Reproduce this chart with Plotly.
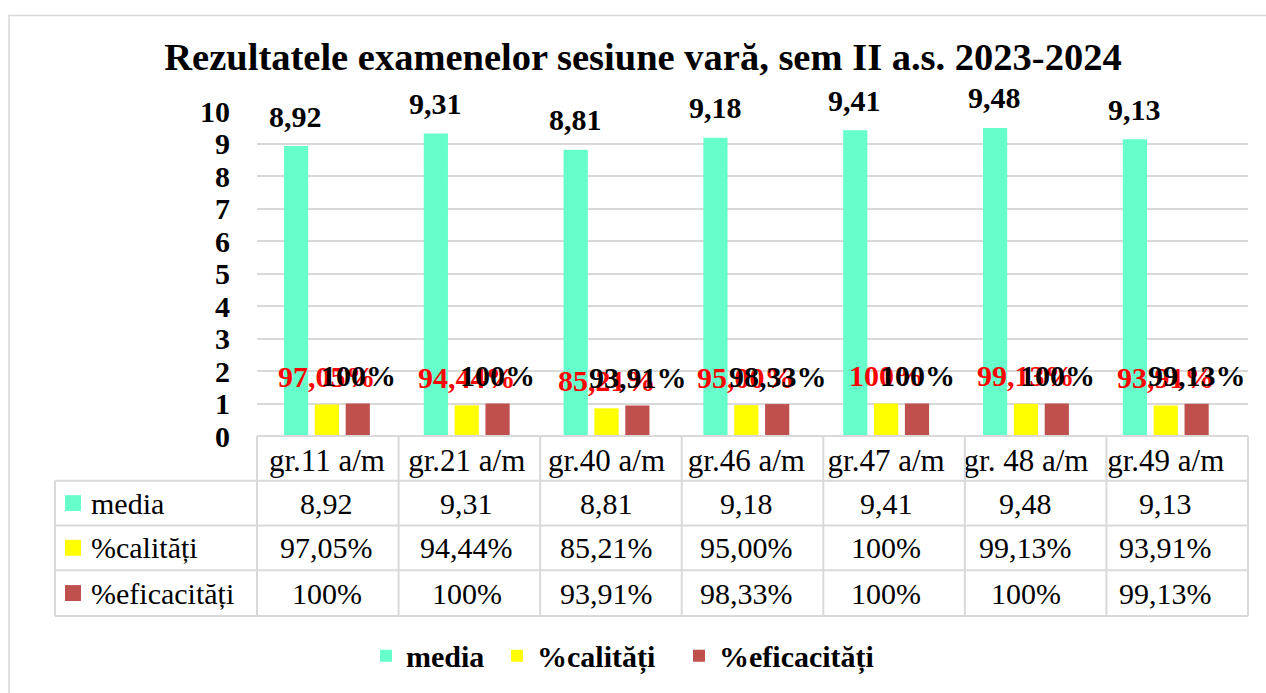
import plotly.graph_objects as go

# ---------------- data ----------------
categories = ["gr.11 a/m", "gr.21 a/m", "gr.40 a/m", "gr.46 a/m", "gr.47 a/m", "gr. 48 a/m", "gr.49 a/m"]
media = [8.92, 9.31, 8.81, 9.18, 9.41, 9.48, 9.13]
calitatii = [0.9705, 0.9444, 0.8521, 0.9500, 1.0, 0.9913, 0.9391]
eficacitatii = [1.0, 1.0, 0.9391, 0.9833, 1.0, 1.0, 0.9913]
series_names = ["media", "%calități", "%eficacități"]
y_ticks = list(range(0, 11))
title_text = "Rezultatele examenelor sesiune vară, sem II a.s. 2023-2024"

# ---------------- style ----------------
series_colors = ["#66FFCC", "#FFFF00", "#C0504D"]
label_colors = ["#000000", "#FF0000", "#000000"]
legend_widths = [86, 137, 165]
FONT = "Liberation Serif"
GRID = "#D9D9D9"
W, H = 1266, 693
L, R, T, B = 257, 1248, 111, 438  # plot area in px


def fmt_num(v):
    return f"{v:.2f}".replace(".", ",")


def fmt_pct(v):
    p = round(v * 100, 2)
    if p == 100:
        return "100%"
    return f"{p:.2f}%".replace(".", ",")


def px_x(x):
    return (x - L) / (R - L)


def px_y(y):
    return (B - y) / (B - T)


series_values = [media, calitatii, eficacitatii]
formatters = [fmt_num, fmt_pct, fmt_pct]

fig = go.Figure()
for name, vals, col, lw in zip(series_names, series_values, series_colors, legend_widths):
    fig.add_trace(go.Bar(x=categories, y=vals, name=name, legendwidth=lw,
                         marker=dict(color=col, line=dict(width=0))))

annotations = []
# data labels
slot = (R - L) / len(categories) * (1 - 0.338) / 3
for i, (vals, fmt, lc) in enumerate(zip(series_values, formatters, label_colors)):
    for c, v in zip(categories, vals):
        annotations.append(dict(
            x=c, y=v, xref="x", yref="y", text=fmt(v), showarrow=False,
            xshift=(i - 1) * slot, yshift=28 if i else 30, yanchor="middle", xanchor="center",
            font=dict(family=FONT, size=30, color=lc, weight="bold")))

# data table
row_lines = [483, 528, 573, 619]
row_centers = [(row_lines[k] + row_lines[k + 1]) / 2 for k in range(3)]
shapes = []
# outer chart border
shapes.append(dict(type="rect", xref="paper", yref="paper",
                   x0=px_x(9), x1=px_x(W + 20), y0=px_y(H + 20), y1=px_y(15),
                   line=dict(color=GRID, width=1.5), fillcolor="rgba(0,0,0,0)", layer="below"))
# horizontal lines
shapes.append(dict(type="line", xref="paper", yref="paper", x0=0, x1=1, y0=0, y1=0,
                   line=dict(color=GRID, width=2)))
for yl in row_lines:
    shapes.append(dict(type="line", xref="paper", yref="paper", x0=px_x(55), x1=1,
                       y0=px_y(yl), y1=px_y(yl), line=dict(color=GRID, width=2)))
# vertical lines
ncat = len(categories)
for k in range(ncat + 1):
    shapes.append(dict(type="line", xref="paper", yref="paper", x0=k / ncat, x1=k / ncat,
                       y0=px_y(row_lines[-1]), y1=0, line=dict(color=GRID, width=2)))
shapes.append(dict(type="line", xref="paper", yref="paper", x0=px_x(55), x1=px_x(55),
                   y0=px_y(row_lines[-1]), y1=px_y(row_lines[0]), line=dict(color=GRID, width=2)))

for name, vals, fmt, col, rc in zip(series_names, series_values, formatters, series_colors, row_centers):
    shapes.append(dict(type="rect", xref="paper", yref="paper", x0=px_x(65), x1=px_x(81),
                       y0=px_y(rc + 8), y1=px_y(rc - 8), fillcolor=col, line=dict(width=0)))
    annotations.append(dict(x=px_x(89), y=px_y(rc), xref="paper", yref="paper", text=name,
                            showarrow=False, xanchor="left", yanchor="middle",
                            font=dict(family=FONT, size=30, color="#000000")))
    for c, v in zip(categories, vals):
        annotations.append(dict(x=c, y=px_y(rc), xref="x", yref="paper", text=fmt(v),
                                showarrow=False, xanchor="center", yanchor="middle",
                                font=dict(family=FONT, size=30, color="#000000")))

fig.update_layout(
    width=W, height=H,
    paper_bgcolor="white", plot_bgcolor="white",
    margin=dict(l=L, r=W - R, t=T, b=H - B, pad=0),
    barmode="group", bargap=0.338, bargroupgap=0.216,
    title=dict(text=title_text, x=643 / W, xanchor="center", y=1 - 57 / H, yanchor="middle",
               font=dict(family=FONT, size=38.5, color="#000000", weight="bold")),
    font=dict(family=FONT, color="#000000"),
    xaxis=dict(showgrid=False, zeroline=False, showline=False, ticks="",
               tickfont=dict(family=FONT, size=31, color="#000000"), ticklabelstandoff=3),
    yaxis=dict(range=[0, 10], tickvals=y_ticks, showgrid=True, gridcolor=GRID, gridwidth=1.5,
               zeroline=False, showline=False, ticks="",
               tickfont=dict(family=FONT, size=30, color="#000000", weight="bold"),
               ticklabelstandoff=26),
    legend=dict(orientation="h", x=px_x(366), xanchor="left", y=px_y(659), yanchor="middle",
                font=dict(family=FONT, size=30, color="#000000", weight="bold"),
                bgcolor="rgba(0,0,0,0)"),
    showlegend=True,
    shapes=shapes,
    annotations=annotations,
)

fig.write_html("out.html", config={"displayModeBar": False},
               post_script="document.body.style.margin='0';")
